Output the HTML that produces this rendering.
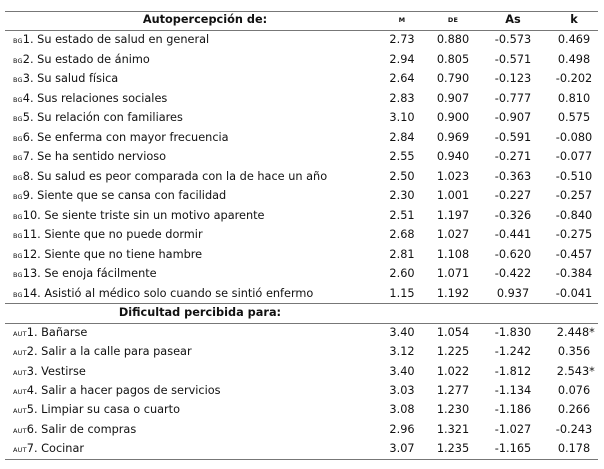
<!DOCTYPE html>
<html><head><meta charset="utf-8"><style>
body{margin:0;width:604px;height:469px;background:#fff;position:relative;font-family:"DejaVu Sans","Liberation Sans",sans-serif;font-size:11.3px;color:#111;overflow:hidden}
.l{position:absolute;left:5px;width:593px;height:1px;background:#777}
.r{position:absolute;left:0;width:604px;height:18px;line-height:18px}
.r span{position:absolute;top:0;white-space:nowrap}
.t{left:13px}
.s{font-size:6.5px;letter-spacing:.2px}
.c1{left:380px;width:44px;text-align:center}
.c2{left:428px;width:50px;text-align:center}
.c3{left:484px;width:58px;text-align:center}
.c4{left:546px;width:56px;text-align:center}
.h{font-weight:bold}
</style></head><body>
<div class="l" style="top:11px"></div>
<div class="l" style="top:30px"></div>
<div class="l" style="top:303px"></div>
<div class="l" style="top:323px"></div>
<div class="l" style="top:459px"></div>
<div class="r h" style="top:11px"><span style="left:105px;width:200px;text-align:center">Autopercepción de:</span><span class="c1 s">M</span><span class="c2 s">DE</span><span class="c3">As</span><span class="c4">k</span></div>
<div class="r h" style="top:304px"><span style="left:90px;width:220px;text-align:center">Dificultad percibida para:</span></div>
<div id="rows"></div>
<script>
var a=[["BG","1. Su estado de salud en general","2.73","0.880","-0.573","0.469"],
["BG","2. Su estado de ánimo","2.94","0.805","-0.571","0.498"],
["BG","3. Su salud física","2.64","0.790","-0.123","-0.202"],
["BG","4. Sus relaciones sociales","2.83","0.907","-0.777","0.810"],
["BG","5. Su relación con familiares","3.10","0.900","-0.907","0.575"],
["BG","6. Se enferma con mayor frecuencia","2.84","0.969","-0.591","-0.080"],
["BG","7. Se ha sentido nervioso","2.55","0.940","-0.271","-0.077"],
["BG","8. Su salud es peor comparada con la de hace un año","2.50","1.023","-0.363","-0.510"],
["BG","9. Siente que se cansa con facilidad","2.30","1.001","-0.227","-0.257"],
["BG","10. Se siente triste sin un motivo aparente","2.51","1.197","-0.326","-0.840"],
["BG","11. Siente que no puede dormir","2.68","1.027","-0.441","-0.275"],
["BG","12. Siente que no tiene hambre","2.81","1.108","-0.620","-0.457"],
["BG","13. Se enoja fácilmente","2.60","1.071","-0.422","-0.384"],
["BG","14. Asistió al médico solo cuando se sintió enfermo","1.15","1.192","0.937","-0.041"]];
var b=[["AUT","1. Bañarse","3.40","1.054","-1.830","2.448*"],
["AUT","2. Salir a la calle para pasear","3.12","1.225","-1.242","0.356"],
["AUT","3. Vestirse","3.40","1.022","-1.812","2.543*"],
["AUT","4. Salir a hacer pagos de servicios","3.03","1.277","-1.134","0.076"],
["AUT","5. Limpiar su casa o cuarto","3.08","1.230","-1.186","0.266"],
["AUT","6. Salir de compras","2.96","1.321","-1.027","-0.243"],
["AUT","7. Cocinar","3.07","1.235","-1.165","0.178"]];
var h="";
function row(r,y){h+='<div class="r" style="top:'+y+'px"><span class="t"><span class="s" style="position:static">'+r[0]+'</span>'+r[1]+'</span><span class="c1">'+r[2]+'</span><span class="c2">'+r[3]+'</span><span class="c3">'+r[4]+'</span><span class="c4">'+(r[5].indexOf('*')>0?'&nbsp;'+r[5]:r[5])+'</span></div>';}
a.forEach(function(r,i){row(r,31+i*19.54);});
b.forEach(function(r,i){row(r,324+i*19.33);});
document.getElementById('rows').innerHTML=h;
</script>
</body></html>
